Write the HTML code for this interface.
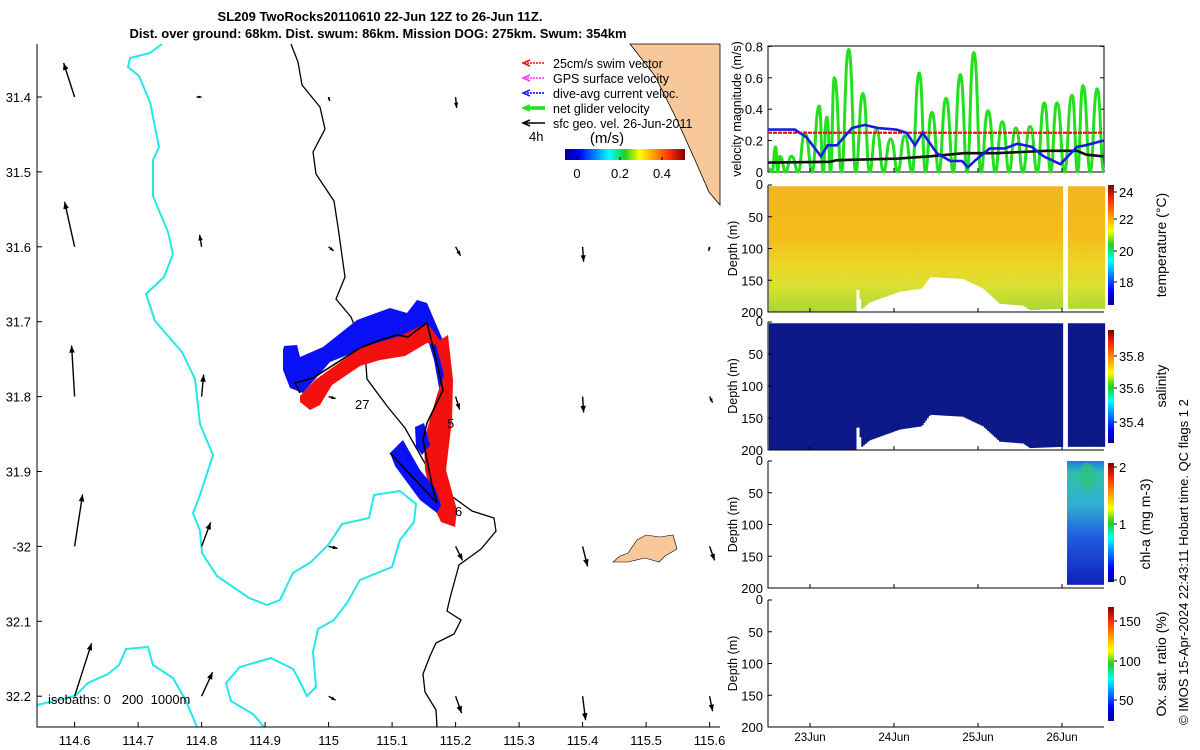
<!DOCTYPE html>
<html><head><meta charset="utf-8"><style>
html,body{margin:0;padding:0;background:#fff;}
svg{display:block;font-family:"Liberation Sans",sans-serif;}
</style></head><body>
<svg id="s" width="1200" height="750" viewBox="0 0 1200 750" xmlns="http://www.w3.org/2000/svg">
<defs>
<linearGradient id="jetV" x1="0" y1="1" x2="0" y2="0">
<stop offset="0" stop-color="#00008f"/><stop offset="0.12" stop-color="#0000ff"/><stop offset="0.37" stop-color="#00ffff"/><stop offset="0.5" stop-color="#20d020"/><stop offset="0.62" stop-color="#ffff00"/><stop offset="0.87" stop-color="#ff3000"/><stop offset="1" stop-color="#800000"/>
</linearGradient>
<linearGradient id="jetH" x1="0" y1="0" x2="1" y2="0">
<stop offset="0" stop-color="#00008f"/><stop offset="0.12" stop-color="#0000ff"/><stop offset="0.37" stop-color="#00ffff"/><stop offset="0.5" stop-color="#20d020"/><stop offset="0.62" stop-color="#ffff00"/><stop offset="0.87" stop-color="#ff3000"/><stop offset="1" stop-color="#800000"/>
</linearGradient>
<linearGradient id="tempG" gradientUnits="userSpaceOnUse" x1="0" y1="185" x2="0" y2="312">
<stop offset="0" stop-color="#f3b41c"/><stop offset="0.4" stop-color="#f3bc1a"/><stop offset="0.62" stop-color="#eed424"/><stop offset="0.8" stop-color="#d8e030"/><stop offset="1" stop-color="#a8d830"/>
</linearGradient>
<linearGradient id="chlG" x1="0" y1="0" x2="0" y2="1">
<stop offset="0" stop-color="#1a80e0"/><stop offset="0.1" stop-color="#30c0b0"/><stop offset="0.35" stop-color="#30b0d0"/><stop offset="0.6" stop-color="#2060e0"/><stop offset="1" stop-color="#1020b8"/>
</linearGradient>
</defs>
<g id="map"></g>
<g id="vel"></g>
<g id="sec"></g>
<text x="380" y="21" text-anchor="middle" font-size="13" font-weight="bold">SL209 TwoRocks20110610 22-Jun 12Z to 26-Jun 11Z.</text>
<text x="378" y="38" text-anchor="middle" font-size="13" font-weight="bold">Dist. over ground: 68km. Dist. swum: 86km. Mission DOG: 275km. Swum: 354km</text>
<text transform="translate(1188,725) rotate(-90)" font-size="13">© IMOS 15-Apr-2024 22:43:11 Hobart time. QC flags 1  2</text>
</svg>
<script>
// ---------- DATA ----------
const lonTicks=[114.6,114.7,114.8,114.9,115,115.1,115.2,115.3,115.4,115.5,115.6];
const latTicks=[31.4,31.5,31.6,31.7,31.8,31.9,32.0,32.1,32.2];
const latTickLabels=["31.4","31.5","31.6","31.7","31.8","31.9","-32","32.1","32.2"];
const arrowLon=[114.6,114.6,114.6,114.6,114.6,114.8,114.8,114.8,114.8,114.8,115,115,115,115,115,115.2,115.2,115.2,115.2,115.2,115.4,115.4,115.4,115.4,115.6,115.6,115.6,115.6];
const arrowLat=[31.4,31.6,31.8,32.0,32.2,31.4,31.6,31.8,32.0,32.2,31.4,31.6,31.8,32.0,32.2,31.4,31.6,31.8,32.0,32.2,31.6,31.8,32.0,32.2,31.6,31.8,32.0,32.2];
const arrowU=[-0.11,-0.10,-0.03,0.08,0.17,-0.05,-0.02,0.02,0.09,0.11,0.01,0.05,0.07,0.09,0.07,0.01,0.05,0.04,0.07,0.06,0.01,0.01,0.05,0.03,-0.01,0.03,0.05,0.03];
const arrowV=[0.34,0.45,0.51,0.52,0.53,0.0,0.12,0.22,0.24,0.24,-0.04,-0.04,-0.02,-0.02,-0.04,-0.11,-0.09,-0.13,-0.14,-0.17,-0.15,-0.16,-0.20,-0.24,-0.04,-0.06,-0.14,-0.15];

const dayTicks=[23,24,25,26];
const dayLabels=["23Jun","24Jun","25Jun","26Jun"];
const velTicks=[0,0.2,0.4,0.6,0.8];
const greenPeakDay=[22.59,22.64,22.78,22.94,23.11,23.20,23.29,23.46,23.63,23.79,23.96,24.13,24.30,24.45,24.62,24.79,24.95,25.12,25.29,25.45,25.62,25.79,25.94,26.12,26.25,26.42];
const greenPeakVal=[0.16,0.1,0.1,0.25,0.42,0.35,0.6,0.78,0.5,0.27,0.21,0.23,0.63,0.38,0.47,0.62,0.76,0.39,0.32,0.28,0.29,0.44,0.44,0.49,0.55,0.53];
const blueDay=[22.50,22.82,22.96,23.13,23.21,23.32,23.50,23.65,23.81,24.03,24.15,24.25,24.34,24.51,24.67,24.81,24.88,24.98,25.14,25.32,25.47,25.64,25.78,25.98,26.18,26.28,26.49];
const blueVal=[0.27,0.27,0.22,0.1,0.17,0.17,0.28,0.3,0.28,0.27,0.25,0.17,0.25,0.12,0.07,0.07,0.03,0.08,0.15,0.15,0.18,0.16,0.1,0.05,0.16,0.17,0.2];
const blackDay=[22.50,23.24,23.32,24.03,24.43,24.83,25.22,25.82,26.18,26.29,26.49];
const blackVal=[0.06,0.065,0.075,0.085,0.1,0.12,0.12,0.135,0.135,0.11,0.1];
const swimRef=0.25;
const bottomDay=[22.50,23.54,23.55,23.58,23.62,23.71,24.07,24.33,24.43,24.82,25.06,25.22,25.26,25.54,25.62,26.02,26.06,26.50];
const bottomDepth=[200,200,165,165,195,185,168,163,145,148,163,182,187,190,197,195,195,195];
const gapStart=26.02, gapEnd=26.06;
const chlStart=26.06, chlEnd=26.50;
const depthTicks=[0,50,100,150,200];

// ---------- HELPERS ----------
const NS="http://www.w3.org/2000/svg";
function mk(tag,attrs,parent,txt){const e=document.createElementNS(NS,tag);for(const k in attrs)e.setAttribute(k,attrs[k]);if(txt!==undefined)e.textContent=txt;parent.appendChild(e);return e;}
const sx=v=>74.6+(v-114.6)*635;
const sy=v=>97+(v-31.4)*749;
const tx=d=>810+(d-23)*84;
const vy=v=>172-v*157;
const X0=768,X1=1104;

// ---------- MAP ----------
const map=document.getElementById('map');
let e=mk('polygon',{points:"630,44 655,76 677,120 695,160 709,192 720,205 720,44",fill:"#f9c89a",stroke:"#000","stroke-width":"0.8"},map);

e=mk('polygon',{points:"613,562 620,556 628,553 637,540 646,535 660,537 673,535 677,549 665,556 659,562 645,558 628,562",fill:"#f9c89a",stroke:"#000","stroke-width":"0.6"},map);

const cy1="162,44 150,53 130,58 128,67 139,76 150,102 159,147 153,160 153,196 168,232 173,254 164,277 146,294 155,321 182,352 195,379 200,424 213,455 200,495 193,513 200,531 202,553 217,576 249,598 267,605 280,600 293,573 311,562 329,544 342,524 369,518 374,495 400,491 416,504 414,522 400,540 392,567 360,580 347,603 334,620 318,629 313,652 316,687 307,696 298,678 293,669 271,658 240,667 226,683 231,701 253,714 264,727";
e=mk('polyline',{points:cy1,fill:"none",stroke:"#22e8e8","stroke-width":"2"},map);

e=mk('polyline',{points:"37,705 75,696 88,683 108,674 119,665 126,649 148,647 153,665 173,678 186,701 197,727",fill:"none",stroke:"#22e8e8","stroke-width":"2"},map);

e=mk('polyline',{points:"291,44 298,62 302,85 320,107 325,129 313,152 316,174 334,201 338,227 345,277 336,299 351,317 365,352 367,379 387,406 405,428 418,451 423,460 436,482 450,495 472,511 494,518 496,531 481,549 459,565 450,598 447,611 461,620 454,634 436,643 430,656 423,674 425,692 436,710 437,727",fill:"none",stroke:"#000","stroke-width":"1.3"},map);

e=mk('polygon',{points:"283,350 284,346 297,345 300,357 323,347 357,320 390,308 407,313 417,300 427,303 445,345 450,375 440,393 434,360 425,330 410,340 380,342 330,362 303,393 290,388 283,370",fill:"#0a10f5"},map);

e=mk('polygon',{points:"300,396 315,380 360,348 400,336 427,323 440,340 448,335 453,380 452,420 446,470 457,510 455,527 441,522 433,505 425,470 424,440 437,395 444,375 436,345 427,343 405,356 380,360 360,366 332,385 320,405 310,410 300,402",fill:"#f51010"},map);

e=mk('polygon',{points:"390,453 403,440 420,470 435,488 441,505 437,513 420,500 395,466",fill:"#0a10f5"},map);

e=mk('polygon',{points:"415,427 424,423 430,445 422,455 416,447",fill:"#0a10f5"},map);

e=mk('polyline',{points:"300,393 295,383 313,378 360,348 380,340 397,335 408,337 417,330 427,323 437,363 443,390 427,423 423,440 433,490 437,503 390,453",fill:"none",stroke:"#000","stroke-width":"1.6"},map);

[["27",355,409],["5",447,428],["6",455,516]].forEach(l=>{const t=mk('text',{x:l[1],y:l[2],"font-size":"13"},map,l[0]);
});
for(let i=0;i<arrowLon.length;i++){
  const x0=sx(arrowLon[i]),y0=sy(arrowLat[i]);
  const x1=x0+arrowU[i]*100,y1=y0-arrowV[i]*100;
  const g=mk('g',{},map);
  
  mk('line',{x1:x0,y1:y0,x2:x1,y2:y1,stroke:"#000","stroke-width":"1.4"},g);
  const L=Math.hypot(x1-x0,y1-y0)||0.001,ux=(x1-x0)/L,uy=(y1-y0)/L,h=Math.min(7,2+L*0.3);
  mk('polygon',{points:`${x1},${y1} ${x1-ux*h-uy*h*0.4},${y1-uy*h+ux*h*0.4} ${x1-ux*h+uy*h*0.4},${y1-uy*h-ux*h*0.4}`,fill:"#000"},g);
}
e=mk('polyline',{points:"37,44 37,727 720,727",fill:"none",stroke:"#000","stroke-width":"1"},map);

lonTicks.forEach(v=>{mk('line',{x1:sx(v),y1:727,x2:sx(v),y2:722,stroke:"#000"},map);
 const t=mk('text',{x:sx(v),y:745,"text-anchor":"middle","font-size":"13"},map,String(v));
 });
latTicks.forEach((v,i)=>{mk('line',{x1:37,y1:sy(v),x2:42,y2:sy(v),stroke:"#000"},map);
 const t=mk('text',{x:31,y:sy(v)+5,"text-anchor":"end","font-size":"13"},map,latTickLabels[i]);
 });
e=mk('text',{x:48,y:704,"font-size":"13"},map,"isobaths: 0\u00a0\u00a0\u00a0200\u00a0\u00a01000m");

const leg=[["25cm/s swim vector","#f01010",1.5],["GPS surface velocity","#ff30ff",1.5],["dive-avg current veloc.","#2020f0",1.8],["net glider velocity","#20e020",3.5],["sfc geo. vel. 26-Jun-2011","#000",1.5]];
leg.forEach((l,i)=>{const y=63+i*15;const g=mk('g',{},map);
 
 mk('line',{x1:524,y1:y,x2:545,y2:y,stroke:l[1],"stroke-width":l[2],"stroke-dasharray":i<3?"2,1":"none"},g);
 mk('polyline',{points:`${530},${y-3} ${523},${y} ${530},${y+3}`,fill:"none",stroke:l[1],"stroke-width":"1.5"},g);
 mk('text',{x:553,y:y+5,"font-size":"12.5"},g,l[0]);});
e=mk('text',{x:529,y:141,"font-size":"13"},map,"4h");
e=mk('text',{x:607,y:143,"font-size":"15","text-anchor":"middle"},map,"(m/s)");
e=mk('rect',{x:565,y:149,width:120,height:11,fill:"url(#jetH)"},map);
[["0",577],["0.2",620],["0.4",662]].forEach(t=>{mk('line',{x1:t[1],y1:160,x2:t[1],y2:157,stroke:"#000"},map);
 const tt=mk('text',{x:t[1],y:178,"text-anchor":"middle","font-size":"13"},map,t[0]);
 });

// ---------- VELOCITY PANEL ----------
const vel=document.getElementById('vel');
e=mk('rect',{x:X0,y:46,width:X1-X0,height:126,fill:"none",stroke:"#000"},vel);
velTicks.forEach(v=>{mk('line',{x1:X0,y1:vy(v),x2:X0+4,y2:vy(v),stroke:"#000"},vel);mk('line',{x1:X1,y1:vy(v),x2:X1-4,y2:vy(v),stroke:"#000"},vel);
 const t=mk('text',{x:763,y:vy(v)+5,"text-anchor":"end","font-size":"13"},vel,String(v));});
e=mk('text',{transform:"translate(741,109) rotate(-90)","text-anchor":"middle","font-size":"12.5"},vel,"velocity magnitude (m/s)");
let d=`M${tx(22.51)},${vy(0.02)}`;let prevD=22.51,prevV=0.02;
for(let i=0;i<greenPeakDay.length;i++){
  const pd=greenPeakDay[i],pv=greenPeakVal[i];
  const md=(prevD+pd)/2;
  d+=` C${tx(prevD+(md-prevD)*0.55)},${vy(prevV)} ${tx(md-(md-prevD)*0.45)},${vy(0)} ${tx(md)},${vy(0)}`;
  d+=` C${tx(md+(pd-md)*0.45)},${vy(0)} ${tx(pd-(pd-md)*0.55)},${vy(pv)} ${tx(pd)},${vy(pv)}`;
  prevD=pd;prevV=pv;
}
d+=` C${tx(prevD+0.04)},${vy(prevV)} ${tx(prevD+0.04)},${vy(0)} ${tx(26.5)},${vy(0)}`;
e=mk('path',{d:d,fill:"none",stroke:"#22e01e","stroke-width":"3"},vel);
e=mk('line',{x1:X0,y1:vy(swimRef),x2:X1,y2:vy(swimRef),stroke:"#f01010","stroke-width":"2.2","stroke-dasharray":"4,1"},vel);
e=mk('polyline',{points:blackDay.map((t,i)=>tx(t)+","+vy(blackVal[i])).join(" "),fill:"none",stroke:"#111","stroke-width":"2.6"},vel);
e=mk('polyline',{points:blueDay.map((t,i)=>tx(t)+","+vy(blueVal[i])).join(" "),fill:"none",stroke:"#1a1ae8","stroke-width":"2.6"},vel);

// ---------- SECTION PANELS ----------
const sec=document.getElementById('sec');
const panels=[
 {top:185,bot:312,name:'temperature',fill:'url(#tempG)',cb:[185,305],ticks:[["24",192],["22",219],["20",251],["18",282]],title:"temperature (°C)",ty:245,tx:1166},
 {top:322,bot:450,name:'salinity',fill:'#0c1888',cb:[330,443],ticks:[["35.8",356],["35.6",388],["35.4",422]],title:"salinity",ty:386,tx:1166},
 {top:461,bot:588,name:'chl-a',fill:null,cb:[463,582],ticks:[["2",467],["1",524],["0",580]],title:"chl-a (mg m-3)",ty:524,tx:1150},
 {top:600,bot:727,name:'oxygen',fill:null,cb:[607,721],ticks:[["150",621],["100",661],["50",700]],title:"Ox. sat. ratio (%)",ty:664,tx:1166}
];
function bottomAt(t){for(let i=0;i<bottomDay.length-1;i++){if(t>=bottomDay[i]&&t<=bottomDay[i+1]){const f=(t-bottomDay[i])/(bottomDay[i+1]-bottomDay[i]||1);return bottomDepth[i]+f*(bottomDepth[i+1]-bottomDepth[i]);}}return 195;}
panels.forEach(p=>{
  const dy=v=>p.top+v/200*(p.bot-p.top);
  const g=mk('g',{},sec);
  if(p.fill){
    const step=0.02;
    for(let t=22.51;t<26.5;t+=step){
      if(t+step>gapStart&&t<gapEnd)continue;
      const b=bottomAt(t+step/2);
      const c=mk('rect',{x:tx(t),y:dy(2),width:tx(t+step)-tx(t)+0.3,height:dy(b)-dy(2),fill:p.fill},g);
      
    }
  }
  if(p.name==='chl-a'){
    const c=mk('rect',{x:tx(chlStart),y:dy(0),width:tx(chlEnd)-tx(chlStart),height:dy(195)-dy(0),fill:"url(#chlG)"},g);
    
    const c2=mk('ellipse',{cx:tx(26.3),cy:dy(25),rx:8,ry:14,fill:"#30c080",opacity:"0.8"},g);
    
  }
  mk('polyline',{points:`${X0},${p.top} ${X0},${p.bot} ${X1},${p.bot}`,fill:"none",stroke:"#000"},g);
  depthTicks.forEach(v=>{mk('line',{x1:X0,y1:dy(v),x2:X0+4,y2:dy(v),stroke:"#000"},g);
    const t=mk('text',{x:763,y:dy(v)+(v===0?4:5),"text-anchor":"end","font-size":"13"},g,String(v));
    });
  const yt=mk('text',{transform:`translate(737,${(p.top+p.bot)/2}) rotate(-90)`,"text-anchor":"middle","font-size":"12.5"},g,"Depth (m)");
  
  const cb=mk('rect',{x:1108,y:p.cb[0],width:6,height:p.cb[1]-p.cb[0],fill:"url(#jetV)"},g);
  
  p.ticks.forEach(tk=>{mk('line',{x1:1114,y1:tk[1],x2:1117,y2:tk[1],stroke:"#000"},g);
    const t=mk('text',{x:1119,y:tk[1]+5,"font-size":"13"},g,tk[0]);});
  const ct=mk('text',{transform:`translate(${p.tx},${p.ty}) rotate(-90)`,"text-anchor":"middle","font-size":"14"},g,p.title);
  
});
dayTicks.forEach((dd,i)=>{
  panels.forEach(p=>mk('line',{x1:tx(dd),y1:p.bot,x2:tx(dd),y2:p.bot-4,stroke:"#000"},sec));
  mk('line',{x1:tx(dd),y1:172,x2:tx(dd),y2:168,stroke:"#000"},sec);
  const t=mk('text',{x:tx(dd),y:741,"text-anchor":"middle","font-size":"11.5"},sec,dayLabels[i]);
  
});
</script>
</body></html>
